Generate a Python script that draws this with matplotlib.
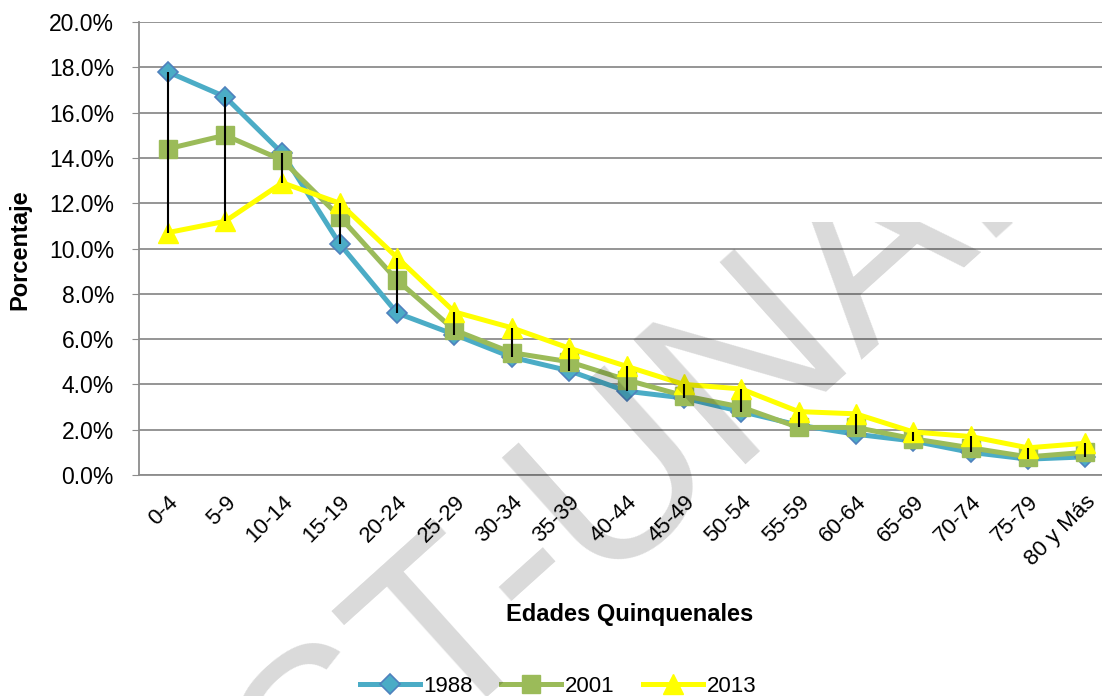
import matplotlib
matplotlib.use("Agg")
import matplotlib.pyplot as plt
from matplotlib.ticker import FuncFormatter
from matplotlib.patches import Rectangle
import numpy as np

plt.rcParams['font.family'] = ['Liberation Sans', 'DejaVu Sans']

categories = ["0-4", "5-9", "10-14", "15-19", "20-24", "25-29", "30-34", "35-39",
              "40-44", "45-49", "50-54", "55-59", "60-64", "65-69", "70-74", "75-79",
              "80 y Más"]
y1988 = [17.8, 16.7, 14.2, 10.2, 7.15, 6.2, 5.2, 4.6, 3.7, 3.4, 2.8, 2.2, 1.8, 1.5, 1.0, 0.7, 0.8]
y2001 = [14.4, 15.0, 13.9, 11.4, 8.6, 6.4, 5.4, 5.0, 4.2, 3.5, 3.0, 2.1, 2.1, 1.6, 1.2, 0.8, 1.0]
y2013 = [10.7, 11.2, 12.9, 12.0, 9.6, 7.2, 6.5, 5.6, 4.8, 4.0, 3.8, 2.8, 2.7, 1.9, 1.7, 1.2, 1.4]
series_names = ["1988", "2001", "2013"]
watermark = "TEST-UNAH"

W, H = 1102, 696
fig = plt.figure(figsize=(W / 100, H / 100), dpi=100)
left, right, top, bottom = 139, 1114, 22, 475
ax = fig.add_axes([left / W, 1 - bottom / H, (right - left) / W, (bottom - top) / H])

x = np.arange(len(categories))
d1 = np.array(y1988) / 100
d2 = np.array(y2001) / 100
d3 = np.array(y2013) / 100

ax.plot(x, d1, color="#4BACC6", lw=3.6, marker="D", ms=10, mfc="#4BACC6",
        mec="#4F81BD", mew=1.2, label=series_names[0], zorder=3)
ax.plot(x, d2, color="#9BBB59", lw=3.6, marker="s", ms=13, mfc="#9BBB59",
        mec="#9BBB59", label=series_names[1], zorder=4)
ax.plot(x, d3, color="#FFFF00", lw=3.6, marker="^", ms=14, mfc="#FFFF00",
        mec="#FFFF00", label=series_names[2], zorder=5)

stack = np.vstack([d1, d2, d3])
ax.vlines(x, stack.min(axis=0), stack.max(axis=0), color="black", lw=1.5, zorder=6)

ax.set_xlim(-0.5, len(categories) - 0.5)
ax.set_ylim(0, 0.20)
ax.set_yticks(np.arange(0, 0.2001, 0.02))
ax.yaxis.set_major_formatter(FuncFormatter(lambda v, p: f"{v*100:.1f}%"))
ax.grid(axis="y", color="#8c8c8c", lw=1.3)
ax.set_axisbelow(True)
for s in ["top", "right"]:
    ax.spines[s].set_visible(False)
for s in ["left", "bottom"]:
    ax.spines[s].set_color("#8c8c8c")
    ax.spines[s].set_linewidth(1.3)
ax.tick_params(axis="y", length=5, color="#8c8c8c", labelsize=16.5, pad=13)
ax.tick_params(axis="x", length=0, labelsize=16, pad=12)
ax.set_xticks(x)
ax.set_xticklabels(categories, rotation=45, ha="right", rotation_mode="anchor")

fig.text(20 / W, 1 - 250 / H, "Porcentaje", rotation=90, ha="center", va="center",
         fontsize=17, fontweight="bold")
fig.text(630 / W, 1 - 615 / H, "Edades Quinquenales", ha="center", va="center",
         fontsize=17, fontweight="bold")

leg = fig.legend(loc="center", bbox_to_anchor=(558 / W, 1 - 686 / H), ncol=3,
                 frameon=False, fontsize=16, handlelength=2.7, columnspacing=1.3,
                 handletextpad=0.15)

wm = fig.text(88 / W, 1 - 1052 / H, watermark, rotation=42, rotation_mode="anchor",
              ha="left", va="baseline", fontsize=175, color="black", alpha=0.15,
              zorder=10)
clip = Rectangle((0, 0), W, H - 222, transform=None, visible=False)
fig.add_artist(clip)
wm.set_clip_path(clip)

fig.savefig("out.png", dpi=100)
